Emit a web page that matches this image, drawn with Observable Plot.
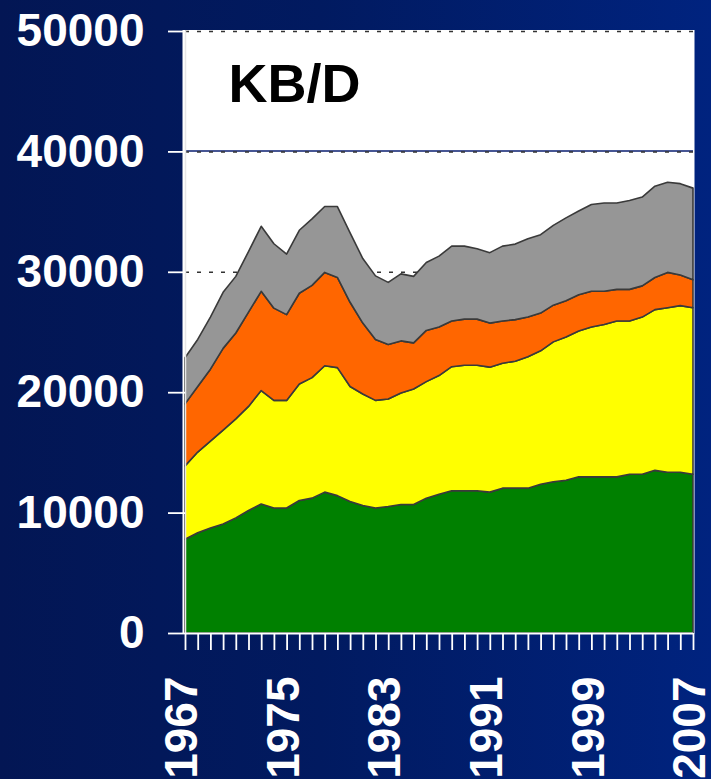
<!DOCTYPE html>
<html>
<head>
<meta charset="utf-8">
<script src="https://cdn.jsdelivr.net/npm/d3@7"></script>
<script src="https://cdn.jsdelivr.net/npm/@observablehq/plot@0.6"></script>
<style>
  html, body { margin: 0; padding: 0; }
  body {
    width: 711px; height: 779px; overflow: hidden;
    background: linear-gradient(90deg, #031654 0%, #011a60 45%, #00237f 100%);
  }
  #chart svg { display: block; }
</style>
</head>
<body>
<div id="chart"></div>
<script>
const years = [1967,1968,1969,1970,1971,1972,1973,1974,1975,1976,1977,1978,1979,1980,1981,1982,1983,1984,1985,1986,1987,1988,1989,1990,1991,1992,1993,1994,1995,1996,1997,1998,1999,2000,2001,2002,2003,2004,2005,2006,2007];
const labelYears = [1967, 1975, 1983, 1991, 1999, 2007];
const yTicks = [0, 10000, 20000, 30000, 40000, 50000];
const gridValues = [30000, 40000, 50000];
const seriesNames = ["Series 1", "Series 2", "Series 3", "Series 4"];
const seriesColors = ["#008000", "#ffff00", "#ff6600", "#969696"];
const unitTitle = "KB/D";

const series1 = [7790,8320,8730,9060,9560,10170,10710,10380,10380,11000,11200,11700,11410,10920,10590,10380,10500,10670,10670,11200,11530,11820,11820,11820,11700,12030,12030,12030,12360,12560,12690,12970,12970,12970,12970,13180,13180,13510,13350,13350,13180];
const series2 = [6090,6710,7210,7790,8230,8650,9430,8940,8940,9680,10010,10500,10630,9550,9260,8940,8940,9270,9600,9680,9850,10300,10420,10420,10380,10380,10540,10910,11080,11620,11900,12120,12440,12650,12940,12730,13060,13350,13670,13840,13840];
const series3 = [5150,5440,5970,6790,7130,7830,8240,7660,7120,7540,7660,7750,7490,7000,5890,5060,4530,4320,3830,4250,4030,3790,3830,3830,3660,3500,3460,3300,3130,3050,3010,3000,2970,2760,2630,2630,2590,2670,2930,2550,2310];
const series4 = [3830,3910,4330,4660,4700,5030,5400,5350,5030,5230,5520,5470,5890,5770,5360,5280,5150,5570,5520,5640,5890,6220,6060,5850,5850,6220,6270,6510,6510,6630,6880,6960,7210,7330,7170,7380,7380,7580,7490,7580,7620];

const seriesValues = [series1, series2, series3, series4];
const table = seriesNames.flatMap((name, s) =>
  years.map((year, i) => ({year, series: name, value: seriesValues[s][i]}))
);

const font = "'Liberation Sans', Arial, Helvetica, sans-serif";

const chart = Plot.plot({
  width: 711,
  height: 779,
  marginLeft: 185,
  marginRight: 18,
  marginTop: 31,
  marginBottom: 146,
  style: {background: "transparent", fontFamily: font, overflow: "visible"},
  x: {domain: [years[0], years[years.length - 1]]},
  y: {domain: [0, 50000]},
  color: {type: "ordinal", domain: seriesNames, range: seriesColors},
  marks: [
    Plot.frame({fill: "white", stroke: "none", insetLeft: -3, insetRight: -1, insetTop: -1.5}),
    Plot.ruleY(gridValues.filter(v => v === 40000), {stroke: "#0a1e70", strokeWidth: 1.5, dy: -1}),
    Plot.ruleY(gridValues, {stroke: "#333", strokeWidth: 1.5, strokeDasharray: "4,8"}),
    Plot.areaY(table, {
      x: "year", y: "value", z: "series",
      fill: {value: "series", scale: "color"},
      order: seriesNames,
      stroke: "#3a3a3a", strokeWidth: 1.6, strokeLinejoin: "round"
    }),
    Plot.ruleX([years[0]], {stroke: "#e6e6e6", strokeWidth: 1.5}),
    Plot.ruleY([0], {stroke: "white", strokeWidth: 1.8, x1: years[0], x2: years[years.length - 1]}),
    Plot.axisY({
      ticks: yTicks, tickSize: 17, tickPadding: 24,
      tickFormat: d => String(d),
      color: "white", strokeWidth: 1.8,
      fontSize: 46, fontWeight: "bold", label: null
    }),
    Plot.axisX({
      ticks: years, tickSize: 17, tickFormat: () => "",
      color: "white", strokeWidth: 1.8, label: null
    }),
    Plot.text(labelYears, {
      x: d => d, frameAnchor: "bottom",
      text: d => String(d),
      rotate: -90, textAnchor: "end", lineAnchor: "middle",
      dy: 43, dx: -3,
      fill: "white", fontSize: 46, fontWeight: "bold"
    }),
    Plot.text([unitTitle], {
      frameAnchor: "top-left", text: d => d,
      dx: 43, dy: 101 - 31,
      textAnchor: "start", lineAnchor: "bottom",
      fill: "black", fontSize: 54, fontWeight: "bold"
    })
  ]
});
document.getElementById("chart").appendChild(chart);
</script>
</body>
</html>
